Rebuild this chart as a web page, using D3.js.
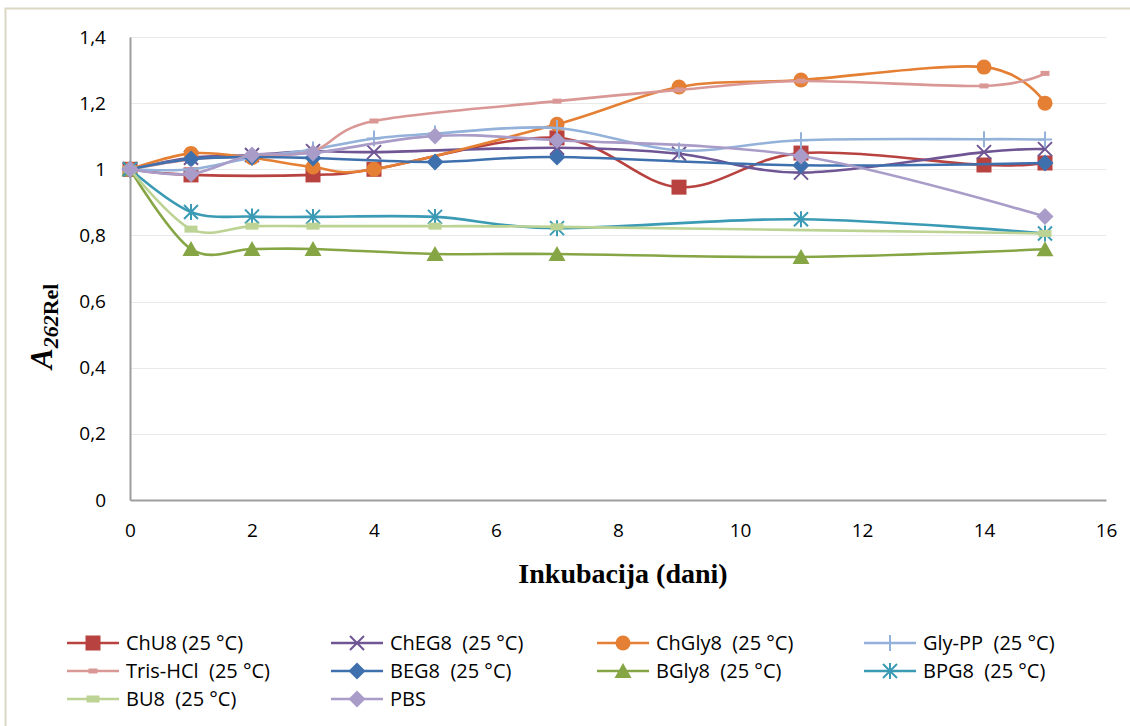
<!DOCTYPE html>
<html>
<head>
<meta charset="utf-8">
<script src="https://cdn.jsdelivr.net/npm/d3@7"></script>
<style>
  html, body { margin: 0; padding: 0; background: #fff; }
  svg { display: block; }
  text { white-space: pre; }
</style>
</head>
<body>
<script>
// ---------- DATA ----------
const seriesNames = ["ChU8 (25 °C)", "ChEG8  (25 °C)", "ChGly8  (25 °C)", "Gly-PP  (25 °C)",
  "Tris-HCl  (25 °C)", "BEG8  (25 °C)", "BGly8  (25 °C)", "BPG8  (25 °C)", "BU8  (25 °C)", "PBS"];

const chU8Days   = [0, 1, 3, 4, 7, 9, 11, 14, 15];
const chU8Vals   = [1, 0.983, 0.983, 1.0, 1.095, 0.946, 1.049, 1.013, 1.019];

const chEG8Days  = [0, 1, 2, 3, 4, 7, 9, 11, 14, 15];
const chEG8Vals  = [1, 1.035, 1.043, 1.055, 1.052, 1.065, 1.047, 0.99, 1.052, 1.061];

const chGly8Days = [0, 1, 2, 3, 4, 7, 9, 11, 14, 15];
const chGly8Vals = [1, 1.048, 1.035, 1.007, 1.0, 1.136, 1.249, 1.27, 1.309, 1.2];

const glyPPDays  = [0, 1, 2, 3, 4, 5, 7, 9, 11, 14, 15];
const glyPPVals  = [1, 1.0, 1.035, 1.06, 1.093, 1.108, 1.125, 1.057, 1.088, 1.091, 1.09];

const trisDays   = [0, 1, 2, 3, 4, 7, 9, 11, 14, 15];
const trisVals   = [1, 1.03, 1.04, 1.055, 1.146, 1.206, 1.24, 1.267, 1.252, 1.29];

const bEG8Days   = [0, 1, 2, 3, 5, 7, 11, 15];
const bEG8Vals   = [1, 1.031, 1.037, 1.034, 1.022, 1.037, 1.012, 1.019];

const bGly8Days  = [0, 1, 2, 3, 5, 7, 11, 15];
const bGly8Vals  = [1, 0.759, 0.759, 0.759, 0.744, 0.744, 0.735, 0.758];

const bPG8Days   = [0, 1, 2, 3, 5, 7, 11, 15];
const bPG8Vals   = [1, 0.871, 0.857, 0.856, 0.856, 0.822, 0.849, 0.806];

const bU8Days    = [0, 1, 2, 3, 5, 7, 15];
const bU8Vals    = [1, 0.819, 0.828, 0.828, 0.828, 0.826, 0.806];

const pbsDays    = [0, 1, 2, 3, 5, 7, 11, 15];
const pbsVals    = [1, 0.986, 1.043, 1.049, 1.101, 1.088, 1.04, 0.857];

const xTicks = [0, 2, 4, 6, 8, 10, 12, 14, 16];
const yTicks = [0, 0.2, 0.4, 0.6, 0.8, 1.0, 1.2, 1.4];
const yTickLabels = ["0", "0,2", "0,4", "0,6", "0,8", "1", "1,2", "1,4"];

// ---------- STYLE ----------
const colors  = ["#b8423f", "#6f5593", "#e47f33", "#93b1d9", "#d99896", "#3f70ae", "#86a646", "#3b9ab4", "#bcd394", "#aa9cc8"];
const markers = ["square", "x", "circle", "plus", "smallrect", "diamond", "triangle", "star", "dash", "diamond"];
const daysList = [chU8Days, chEG8Days, chGly8Days, glyPPDays, trisDays, bEG8Days, bGly8Days, bPG8Days, bU8Days, pbsDays];
const valsList = [chU8Vals, chEG8Vals, chGly8Vals, glyPPVals, trisVals, bEG8Vals, bGly8Vals, bPG8Vals, bU8Vals, pbsVals];

const W = 1130, H = 726;
const plot = { left: 130, right: 1106, top: 37, bottom: 500 };

const svg = d3.select("body").append("svg").attr("width", W).attr("height", H);

// outer frame
svg.append("rect").attr("x", 5.5).attr("y", 8.5).attr("width", W + 20).attr("height", H + 20)
  .attr("fill", "none").attr("stroke", "#dcd7c3").attr("stroke-width", 2);

const x = d3.scaleLinear().domain([0, 16]).range([plot.left, plot.right]);
const y = d3.scaleLinear().domain([0, 1.4]).range([plot.bottom, plot.top]);

// gridlines
svg.append("g").selectAll("line").data(yTicks.filter(d => d > 0)).join("line")
  .attr("x1", plot.left).attr("x2", plot.right)
  .attr("y1", d => Math.round(y(d)) + 0.5).attr("y2", d => Math.round(y(d)) + 0.5)
  .attr("stroke", "#e9e9e9").attr("stroke-width", 1.2);

// axes
const tickFont = "'Open Sans', sans-serif";
const yAxis = svg.append("g").attr("transform", `translate(${plot.left},0)`)
  .call(d3.axisLeft(y).tickValues(yTicks).tickSize(0).tickPadding(24)
    .tickFormat((d, i) => yTickLabels[i]));
yAxis.select(".domain").attr("stroke", "#9d9d9d").attr("stroke-width", 2);
yAxis.selectAll("text").attr("font-family", tickFont).attr("font-size", 19).attr("fill", "#000");

const xAxis = svg.append("g").attr("transform", `translate(0,${plot.bottom})`)
  .call(d3.axisBottom(x).tickValues(xTicks).tickSize(0).tickPadding(24).tickFormat(d3.format("d")));
xAxis.select(".domain").attr("stroke", "#9d9d9d").attr("stroke-width", 2);
xAxis.selectAll("text").attr("font-family", tickFont).attr("font-size", 19).attr("fill", "#000");

// axis titles
svg.append("text").attr("x", 623).attr("y", 583)
  .attr("text-anchor", "middle").attr("font-family", "'Liberation Serif', serif")
  .attr("font-weight", "bold").attr("font-size", 28).text("Inkubacija (dani)");

const yt = svg.append("text").attr("transform", "translate(52,369) rotate(-90)")
  .attr("text-anchor", "start").attr("font-family", "'Liberation Serif', serif")
  .attr("font-weight", "bold");
yt.append("tspan").attr("font-style", "italic").attr("font-size", 31).text("A");
yt.append("tspan").attr("font-style", "italic").attr("font-size", 22).attr("dy", 6).text("262");
yt.append("tspan").attr("font-size", 22).text("Rel");

// marker drawing
function drawMarker(g, type, color) {
  switch (type) {
    case "square":
      g.append("rect").attr("x", -7.5).attr("y", -7.5).attr("width", 15).attr("height", 15).attr("fill", color); break;
    case "circle":
      g.append("circle").attr("r", 7.5).attr("fill", color); break;
    case "diamond":
      g.append("path").attr("d", "M0,-8.5L8.5,0L0,8.5L-8.5,0Z").attr("fill", color); break;
    case "triangle":
      g.append("path").attr("d", "M0,-8L8.5,7L-8.5,7Z").attr("fill", color); break;
    case "x":
      g.append("path").attr("d", "M-7,-7L7,7M-7,7L7,-7").attr("stroke", color).attr("stroke-width", 2).attr("fill", "none"); break;
    case "plus":
      g.append("path").attr("d", "M0,-8L0,8M-7,0L7,0").attr("stroke", color).attr("stroke-width", 2).attr("fill", "none"); break;
    case "star":
      g.append("path").attr("d", "M0,-8L0,8M-7,-7L7,7M-7,7L7,-7").attr("stroke", color).attr("stroke-width", 2).attr("fill", "none"); break;
    case "smallrect":
      g.append("rect").attr("x", -4.5).attr("y", -2.5).attr("width", 9).attr("height", 5).attr("fill", color); break;
    case "dash":
      g.append("rect").attr("x", -6.5).attr("y", -3.5).attr("width", 13).attr("height", 7).attr("fill", color); break;
  }
}

const line = d3.line().x(d => x(d[0])).y(d => y(d[1])).curve(d3.curveCardinal.tension(0));

const seriesG = svg.append("g");
seriesNames.forEach((name, i) => {
  const pts = daysList[i].map((d, j) => [d, valsList[i][j]]);
  const g = seriesG.append("g");
  g.append("path").datum(pts).attr("d", line).attr("fill", "none")
    .attr("stroke", colors[i]).attr("stroke-width", 2.6).attr("stroke-linejoin", "round");
  pts.forEach(p => {
    const mg = g.append("g").attr("transform", `translate(${x(p[0])},${y(p[1])})`);
    drawMarker(mg, markers[i], colors[i]);
  });
});

// legend
const legCols = [67, 331, 597, 864];
const legRows = [643, 671, 699];
seriesNames.forEach((name, i) => {
  const cx = legCols[i % 4], cy = legRows[Math.floor(i / 4)];
  const g = svg.append("g").attr("transform", `translate(${cx},${cy})`);
  g.append("line").attr("x1", 0).attr("x2", 52).attr("stroke", colors[i]).attr("stroke-width", 2.6);
  drawMarker(g.append("g").attr("transform", "translate(26,0)"), markers[i], colors[i]);
  g.append("text").attr("x", 59).attr("dy", "0.35em").attr("font-family", tickFont)
    .attr("font-size", 20).attr("fill", "#000").text(name);
});
</script>
</body>
</html>
